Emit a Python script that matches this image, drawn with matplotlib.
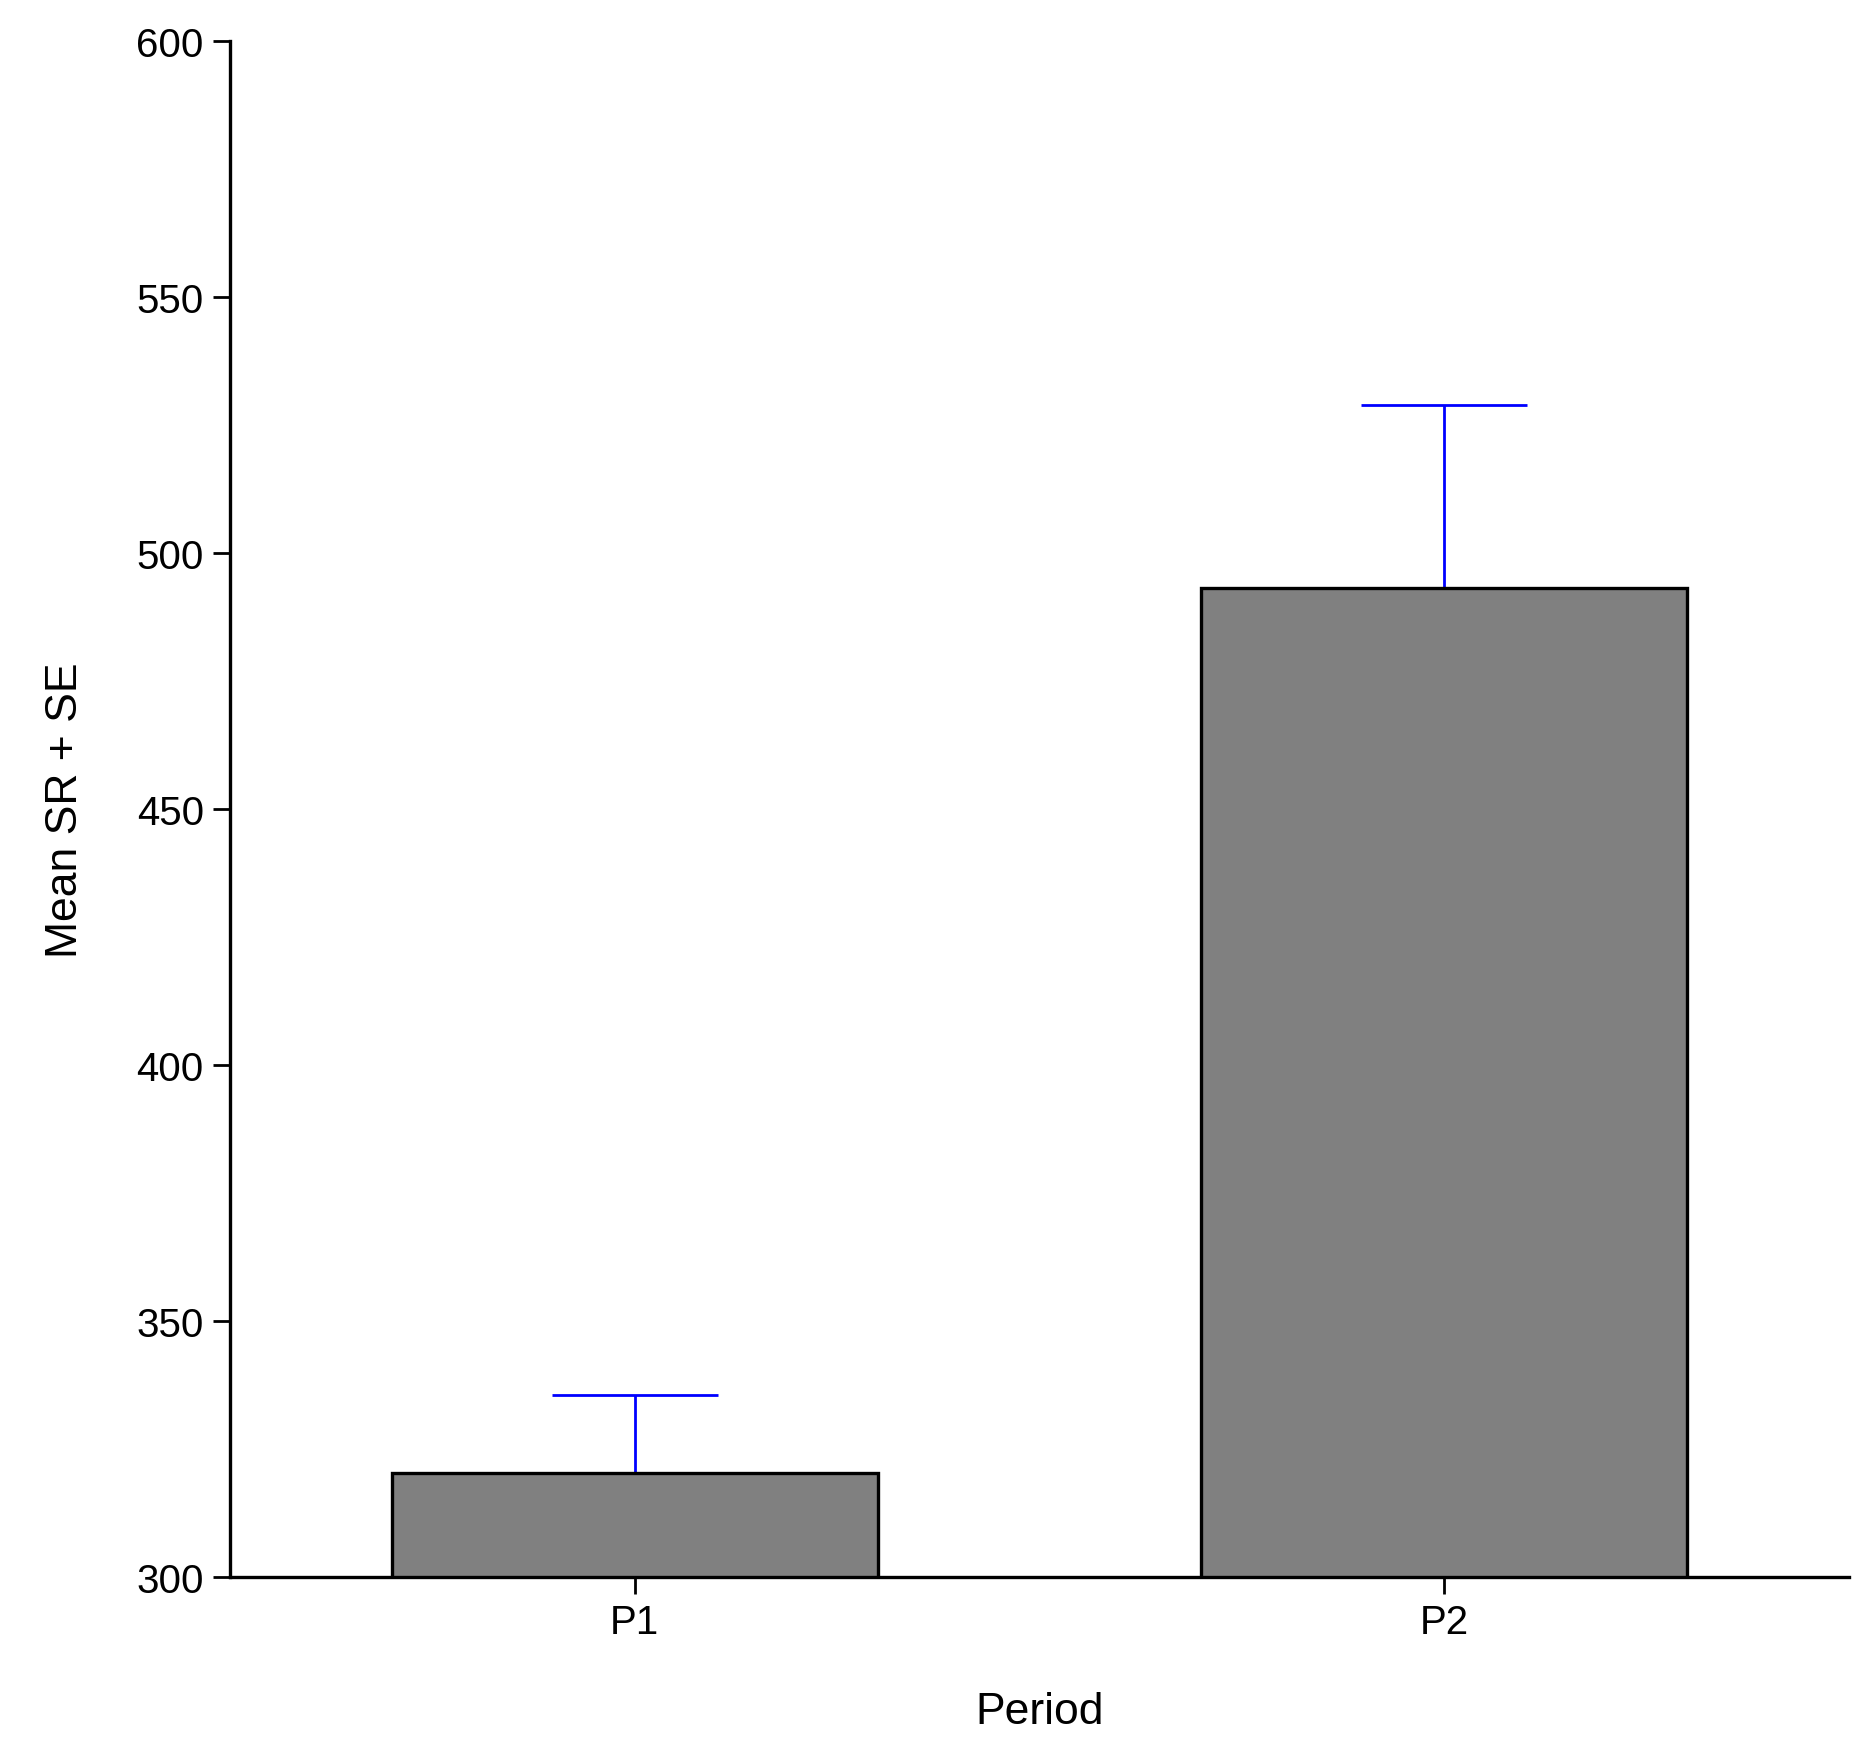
import matplotlib
matplotlib.use("Agg")
import matplotlib.pyplot as plt

# data
periods = ["P1", "P2"]
mean_sr = [320.3, 493.1]
se = [15.2, 35.7]

plt.rcParams['font.family'] = ['Liberation Sans', 'DejaVu Sans']

fig = plt.figure(figsize=(9.36, 8.745), dpi=200)
ax = fig.add_axes([0.123, 0.098, 0.8645, 0.878])

xpos = range(len(periods))
ax.bar(xpos, mean_sr, width=0.6, color='#808080', edgecolor='black', linewidth=1.2, zorder=2)
ax.errorbar(xpos, mean_sr, yerr=[[0, 0], se], fmt='none', ecolor='blue',
            elinewidth=1.0, capsize=30, capthick=1.0, zorder=1)

ax.set_xlim(-0.5, 1.5)
ax.set_ylim(300, 600)
ax.set_yticks(range(300, 601, 50))
ax.set_xticks(list(xpos))
ax.set_xticklabels(periods)
ax.spines['top'].set_visible(False)
ax.spines['right'].set_visible(False)
for s in ['left', 'bottom']:
    ax.spines[s].set_linewidth(1.2)
ax.tick_params(axis='both', labelsize=14.5, length=6, width=1.0)
ax.set_xlabel("Period", fontsize=16, labelpad=18)
ax.set_ylabel("Mean SR + SE", fontsize=16, labelpad=18)

fig.savefig('out.png', dpi=200)
